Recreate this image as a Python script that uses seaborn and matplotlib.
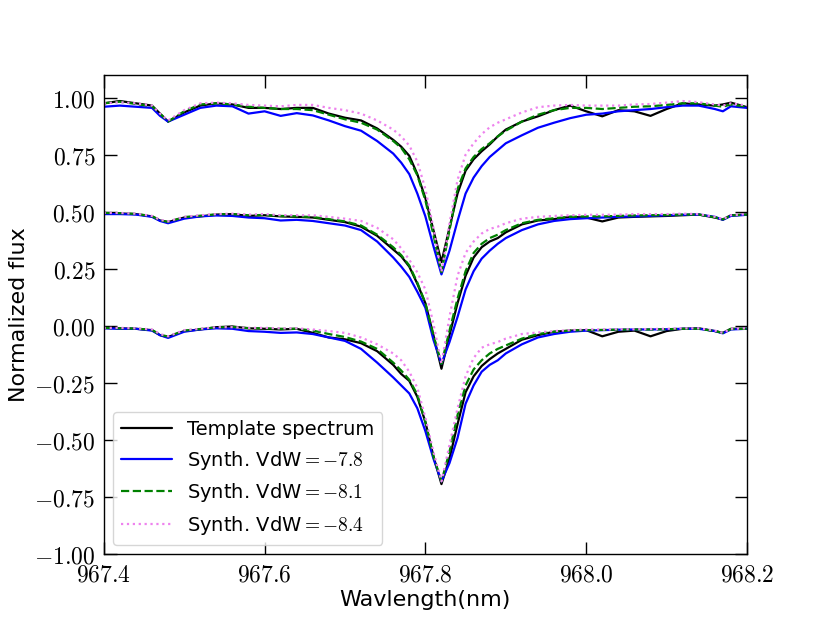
import numpy as np
import pandas as pd
import seaborn as sns
import matplotlib
matplotlib.use('Agg')
import matplotlib.pyplot as plt

# wavelength grid (nm), shared by every spectrum
wl = [967.40, 967.42, 967.44, 967.46, 967.47, 967.48, 967.50, 967.52, 967.54, 967.56,
      967.58, 967.60, 967.62, 967.64, 967.66, 967.68, 967.70, 967.72, 967.74, 967.76,
      967.77, 967.78, 967.79, 967.80, 967.81, 967.82, 967.83, 967.84, 967.85, 967.86,
      967.87, 967.88, 967.89, 967.90, 967.92, 967.94, 967.96, 967.98, 968.00, 968.02,
      968.04, 968.06, 968.08, 968.10, 968.12, 968.14, 968.16, 968.17, 968.18, 968.20]

# top spectrum set
tmpl_top = [0.975, 0.985, 0.975, 0.965, 0.930, 0.895, 0.935, 0.965, 0.975, 0.970,
            0.955, 0.955, 0.950, 0.955, 0.955, 0.930, 0.912, 0.900, 0.865, 0.815,
            0.785, 0.745, 0.665, 0.560, 0.420, 0.280, 0.430, 0.580, 0.680, 0.730,
            0.765, 0.795, 0.830, 0.860, 0.895, 0.918, 0.945, 0.965, 0.940, 0.918,
            0.945, 0.940, 0.920, 0.950, 0.975, 0.970, 0.965, 0.970, 0.978, 0.958]
vdw78_top = [0.960, 0.965, 0.960, 0.955, 0.920, 0.895, 0.925, 0.955, 0.965, 0.962,
             0.930, 0.940, 0.920, 0.932, 0.922, 0.900, 0.875, 0.855, 0.810, 0.755,
             0.715, 0.665, 0.580, 0.480, 0.350, 0.226, 0.330, 0.460, 0.580, 0.650,
             0.700, 0.740, 0.770, 0.800, 0.835, 0.868, 0.890, 0.910, 0.925, 0.930,
             0.940, 0.945, 0.950, 0.958, 0.965, 0.965, 0.950, 0.940, 0.962, 0.955]
vdw81_top = [0.975, 0.982, 0.972, 0.962, 0.930, 0.895, 0.940, 0.970, 0.975, 0.970,
             0.960, 0.955, 0.950, 0.950, 0.945, 0.925, 0.905, 0.890, 0.860, 0.810,
             0.780, 0.730, 0.660, 0.550, 0.400, 0.236, 0.420, 0.600, 0.690, 0.740,
             0.775, 0.800, 0.830, 0.855, 0.895, 0.925, 0.945, 0.955, 0.955, 0.950,
             0.955, 0.960, 0.962, 0.968, 0.975, 0.975, 0.965, 0.960, 0.970, 0.960]
vdw84_top = [0.975, 0.980, 0.975, 0.965, 0.930, 0.900, 0.945, 0.975, 0.978, 0.975,
             0.968, 0.965, 0.962, 0.968, 0.968, 0.955, 0.945, 0.930, 0.900, 0.860,
             0.830, 0.790, 0.720, 0.600, 0.430, 0.236, 0.450, 0.640, 0.750, 0.800,
             0.840, 0.870, 0.890, 0.905, 0.935, 0.958, 0.965, 0.968, 0.965, 0.965,
             0.965, 0.970, 0.972, 0.978, 0.985, 0.980, 0.970, 0.965, 0.975, 0.965]

# middle spectrum set
tmpl_mid = [0.495, 0.493, 0.490, 0.480, 0.462, 0.455, 0.475, 0.480, 0.488, 0.490,
            0.482, 0.485, 0.480, 0.478, 0.475, 0.465, 0.455, 0.435, 0.395, 0.335,
            0.305, 0.260, 0.185, 0.100, -0.040, -0.187, -0.040, 0.100, 0.220, 0.300,
            0.345, 0.370, 0.385, 0.410, 0.445, 0.462, 0.468, 0.478, 0.475, 0.458,
            0.475, 0.478, 0.480, 0.482, 0.485, 0.488, 0.475, 0.466, 0.485, 0.488]
vdw78_mid = [0.490, 0.490, 0.488, 0.478, 0.460, 0.450, 0.470, 0.480, 0.484, 0.482,
             0.475, 0.472, 0.462, 0.465, 0.460, 0.450, 0.440, 0.420, 0.370, 0.300,
             0.260, 0.215, 0.150, 0.080, -0.060, -0.165, -0.070, 0.040, 0.160, 0.240,
             0.295, 0.330, 0.360, 0.385, 0.420, 0.445, 0.460, 0.468, 0.472, 0.475,
             0.478, 0.480, 0.482, 0.485, 0.487, 0.488, 0.478, 0.465, 0.482, 0.487]
vdw81_mid = [0.495, 0.494, 0.491, 0.481, 0.463, 0.456, 0.477, 0.483, 0.489, 0.490,
             0.485, 0.486, 0.482, 0.480, 0.477, 0.468, 0.458, 0.440, 0.400, 0.345,
             0.310, 0.265, 0.190, 0.100, -0.040, -0.165, -0.020, 0.120, 0.240, 0.320,
             0.360, 0.385, 0.400, 0.420, 0.450, 0.465, 0.472, 0.478, 0.480, 0.480,
             0.482, 0.484, 0.485, 0.486, 0.488, 0.488, 0.476, 0.467, 0.484, 0.488]
vdw84_mid = [0.495, 0.495, 0.492, 0.482, 0.465, 0.458, 0.478, 0.485, 0.490, 0.492,
             0.488, 0.490, 0.485, 0.485, 0.485, 0.478, 0.470, 0.460, 0.430, 0.380,
             0.340, 0.290, 0.235, 0.160, 0.010, -0.165, 0.040, 0.220, 0.320, 0.370,
             0.405, 0.425, 0.435, 0.450, 0.470, 0.478, 0.482, 0.485, 0.487, 0.487,
             0.488, 0.490, 0.490, 0.490, 0.492, 0.490, 0.478, 0.468, 0.485, 0.490]

# bottom spectrum set
tmpl_bot = [-0.008, -0.010, -0.012, -0.018, -0.040, -0.048, -0.022, -0.015, -0.005, -0.002,
            -0.010, -0.012, -0.015, -0.012, -0.030, -0.050, -0.058, -0.075, -0.110, -0.170,
            -0.210, -0.240, -0.310, -0.420, -0.570, -0.692, -0.580, -0.430, -0.290, -0.220,
            -0.175, -0.145, -0.120, -0.100, -0.060, -0.040, -0.025, -0.020, -0.018, -0.045,
            -0.025, -0.020, -0.045, -0.022, -0.012, -0.010, -0.022, -0.030, -0.012, -0.012]
vdw78_bot = [-0.010, -0.012, -0.012, -0.020, -0.040, -0.052, -0.025, -0.015, -0.010, -0.012,
             -0.022, -0.025, -0.030, -0.028, -0.035, -0.050, -0.065, -0.100, -0.160, -0.225,
             -0.260, -0.295, -0.360, -0.460, -0.580, -0.680, -0.600, -0.490, -0.340, -0.260,
             -0.200, -0.170, -0.150, -0.120, -0.080, -0.050, -0.035, -0.025, -0.020, -0.018,
             -0.016, -0.015, -0.015, -0.014, -0.012, -0.012, -0.022, -0.032, -0.015, -0.012]
vdw81_bot = [-0.008, -0.010, -0.011, -0.017, -0.038, -0.046, -0.020, -0.013, -0.006, -0.004,
             -0.009, -0.010, -0.012, -0.012, -0.020, -0.035, -0.048, -0.068, -0.100, -0.160,
             -0.195, -0.235, -0.300, -0.420, -0.570, -0.680, -0.550, -0.390, -0.260, -0.190,
             -0.150, -0.120, -0.100, -0.085, -0.055, -0.035, -0.025, -0.020, -0.018, -0.017,
             -0.016, -0.015, -0.015, -0.014, -0.012, -0.012, -0.022, -0.030, -0.013, -0.012]
vdw84_bot = [-0.008, -0.008, -0.010, -0.015, -0.035, -0.045, -0.018, -0.012, -0.005, -0.005,
             -0.008, -0.008, -0.010, -0.010, -0.015, -0.022, -0.030, -0.050, -0.080, -0.120,
             -0.150, -0.200, -0.270, -0.400, -0.550, -0.680, -0.520, -0.360, -0.220, -0.140,
             -0.095, -0.080, -0.070, -0.055, -0.035, -0.028, -0.022, -0.018, -0.015, -0.015,
             -0.014, -0.014, -0.013, -0.012, -0.010, -0.010, -0.020, -0.030, -0.012, -0.010]

labels = ['Template spectrum', r'Synth. VdW$=-7.8$', r'Synth. VdW$=-8.1$', r'Synth. VdW$=-8.4$']
spectra = {
    'top': [tmpl_top, vdw78_top, vdw81_top, vdw84_top],
    'mid': [tmpl_mid, vdw78_mid, vdw81_mid, vdw84_mid],
    'bot': [tmpl_bot, vdw78_bot, vdw81_bot, vdw84_bot],
}
xticks = [967.4, 967.6, 967.8, 968.0, 968.2]
yticks = [-1.0, -0.75, -0.5, -0.25, 0.0, 0.25, 0.5, 0.75, 1.0]

rows = []
for set_name, fluxes in spectra.items():
    for lab, flux in zip(labels, fluxes):
        for w, f in zip(wl, flux):
            rows.append({'wl': w, 'flux': f, 'series': lab, 'set': set_name})
df = pd.DataFrame(rows)

sns.set_style('ticks', {'axes.edgecolor': 'black', 'xtick.color': 'black', 'ytick.color': 'black',
                        'text.color': 'black', 'axes.labelcolor': 'black'})
plt.rcParams['font.family'] = ['DejaVu Sans']
plt.rcParams['mathtext.fontset'] = 'cm'

colors = {labels[0]: 'black', labels[1]: 'blue', labels[2]: 'green', labels[3]: 'violet'}
styles = {labels[0]: '-', labels[1]: '-', labels[2]: '--', labels[3]: ':'}

fig, ax = plt.subplots(figsize=(8.3, 6.23), dpi=100)
for set_name in spectra:
    for lab in labels:
        sub = df[(df['set'] == set_name) & (df['series'] == lab)]
        sns.lineplot(data=sub, x='wl', y='flux', color=colors[lab], linestyle=styles[lab],
                     lw=1.6, estimator=None, sort=False, legend=False, ax=ax,
                     label=lab if set_name == 'top' else None)

ax.set_xlim(967.4, 968.2)
ax.set_ylim(-1.0, 1.1)
ax.set_xticks(xticks)
ax.set_xticklabels([f'${t:.1f}$' for t in xticks])
ax.set_yticks(yticks)
ax.set_yticklabels([f'${t:.2f}$' for t in yticks])
ax.tick_params(direction='in', length=9, width=1, top=True, right=True, labelsize=17, pad=6)
for sp in ax.spines.values():
    sp.set_linewidth(1)
ax.set_xlabel('Wavlength(nm)', fontsize=16, labelpad=2)
ax.set_ylabel('Normalized flux', fontsize=16)

handles, labs = ax.get_legend_handles_labels()
ax.legend(handles[:4], labs[:4], loc='lower left', fontsize=14, handlelength=2.6,
          labelspacing=0.5, framealpha=0.8)

plt.savefig('out.png', dpi=100)
